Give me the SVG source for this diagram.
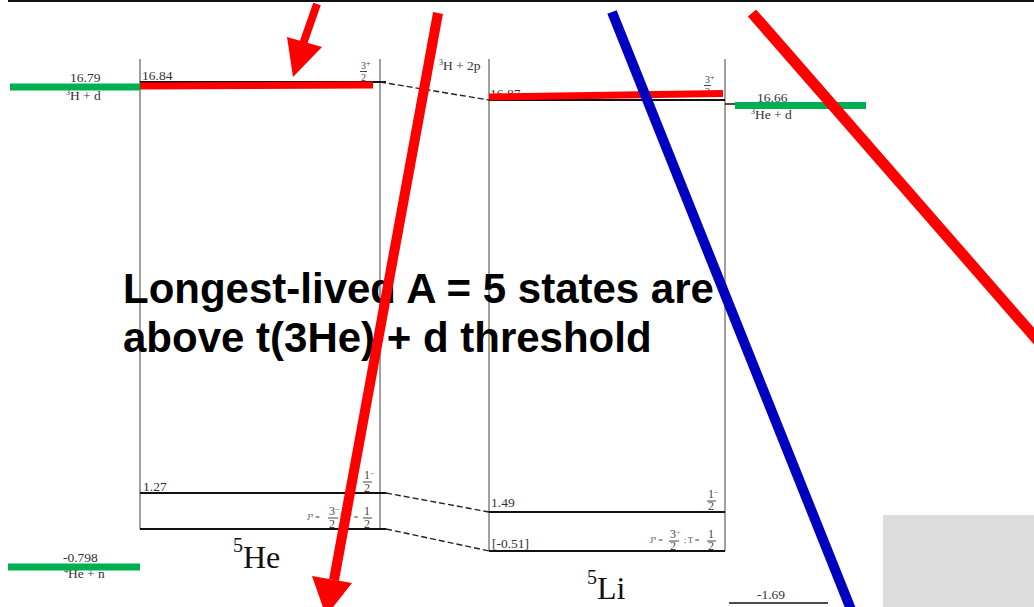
<svg xmlns="http://www.w3.org/2000/svg" width="1034" height="607" viewBox="0 0 1034 607">
<defs>
<style>
.frame{stroke:#808080;stroke-width:1.5;fill:none}
.lvl{stroke:#111;stroke-width:2;fill:none}
.dash{stroke:#222;stroke-width:1.4;stroke-dasharray:6,3;fill:none}
.lbl{font-family:"Liberation Serif",serif;font-size:13.5px;fill:#333}
.tiny{font-family:"Liberation Serif",serif;font-size:12px;fill:#444}
.sm{font-family:"Liberation Serif",serif;font-size:10px;fill:#444}
.jp{font-family:"Liberation Serif",serif;font-size:8px;fill:#444}
.bar{stroke:#444;stroke-width:1}
.nuc{font-family:"Liberation Serif",serif;fill:#111}
.thr{stroke:#00b050;stroke-width:7}
.red{stroke:#ff0000;fill:none}
.big{font-family:"Liberation Sans",Arial,sans-serif;font-weight:bold;font-size:42px;fill:#000}
</style>
</defs>
<rect width="1034" height="607" fill="#ffffff"/>
<line x1="8" y1="1" x2="1034" y2="1" stroke="#111" stroke-width="2"/>
<rect x="883" y="515" width="151" height="92" fill="#dcdcdc"/>

<g id="he5">
<line class="frame" x1="140" y1="59" x2="140" y2="529"/>
<line class="frame" x1="380" y1="59" x2="380" y2="529"/>
<line class="lvl" x1="140" y1="82" x2="386" y2="82" stroke-width="1.2"/>
<line class="lvl" x1="140" y1="493" x2="386" y2="493"/>
<line class="lvl" x1="140" y1="529" x2="386" y2="529" stroke-width="2.5"/>
<text class="lbl" x="142" y="80">16.84</text>
<text class="sm" x="361" y="69">3<tspan font-size="8" dy="-3">+</tspan></text>
<text class="sm" x="361" y="81">2</text>
<line class="bar" x1="360" y1="71.5" x2="367" y2="71.5"/>
<text class="lbl" x="143" y="491">1.27</text>
<text class="tiny" x="364" y="479">1<tspan font-size="8" dy="-3">−</tspan></text>
<text class="tiny" x="364" y="492">2</text>
<line class="bar" x1="363" y1="482" x2="372" y2="482"/>
<text class="jp" x="307" y="520">J<tspan font-size="6" dy="-3">π</tspan><tspan dy="3"> = </tspan></text>
<text class="tiny" x="329" y="515">3<tspan font-size="8" dy="-3">−</tspan></text>
<text class="tiny" x="329" y="528">2</text>
<line class="bar" x1="328" y1="518" x2="338" y2="518"/>
<text class="jp" x="343" y="520">; T =</text>
<text class="tiny" x="364" y="515">1</text>
<text class="tiny" x="364" y="528">2</text>
<line class="bar" x1="363" y1="518" x2="372" y2="518"/>
<text class="nuc" x="233" y="552" font-size="20">5</text>
<text class="nuc" x="243" y="568" font-size="32">He</text>
</g>

<g id="li5">
<line class="frame" x1="489" y1="59" x2="489" y2="551"/>
<line class="frame" x1="725" y1="59" x2="725" y2="551"/>
<line class="lvl" x1="489" y1="100" x2="725" y2="100" stroke-width="1.5"/>
<line class="lvl" x1="489" y1="512" x2="725" y2="512"/>
<line class="lvl" x1="489" y1="551" x2="725" y2="551" stroke-width="2.5"/>
<text class="lbl" x="490" y="98">16.87</text>
<text class="sm" x="705" y="83">3<tspan font-size="8" dy="-3">+</tspan></text>
<text class="sm" x="705" y="95">2</text>
<line class="bar" x1="704" y1="85.5" x2="711" y2="85.5"/>
<text class="lbl" x="491" y="507">1.49</text>
<text class="tiny" x="708" y="498">1<tspan font-size="8" dy="-3">−</tspan></text>
<text class="tiny" x="708" y="510">2</text>
<line class="bar" x1="707" y1="501" x2="716" y2="501"/>
<text class="lbl" x="492" y="548">[-0.51]</text>
<text class="jp" x="650" y="543">J<tspan font-size="6" dy="-3">π</tspan><tspan dy="3"> = </tspan></text>
<text class="tiny" x="670" y="538">3<tspan font-size="8" dy="-3">−</tspan></text>
<text class="tiny" x="670" y="550">2</text>
<line class="bar" x1="669" y1="541" x2="679" y2="541"/>
<text class="jp" x="684" y="543">; T =</text>
<text class="tiny" x="708" y="538">1</text>
<text class="tiny" x="708" y="550">2</text>
<line class="bar" x1="707" y1="541" x2="716" y2="541"/>
<text class="nuc" x="587" y="584" font-size="20">5</text>
<text class="nuc" x="597" y="599" font-size="32">Li</text>
</g>

<g id="thresholds">
<text class="lbl" x="70" y="82">16.79</text>
<text class="lbl" x="66" y="100"><tspan font-size="8" dy="-5">3</tspan><tspan dy="5">H + d</tspan></text>
<text class="lbl" x="439" y="70"><tspan font-size="8" dy="-5">3</tspan><tspan dy="5">H + 2p</tspan></text>
<line x1="725" y1="104" x2="735" y2="104" stroke="#111" stroke-width="1.5"/>
<text class="lbl" x="757" y="102">16.66</text>
<text class="lbl" x="751" y="119"><tspan font-size="8" dy="-5">3</tspan><tspan dy="5">He + d</tspan></text>
<text class="lbl" x="63" y="562">-0.798</text>
<text class="lbl" x="64" y="578"><tspan font-size="8" dy="-5">4</tspan><tspan dy="5">He + n</tspan></text>
<line x1="729" y1="603" x2="828" y2="603" stroke="#111" stroke-width="1.5"/>
<text class="lbl" x="757" y="599">-1.69</text>
</g>

<g id="connectors">
<line class="dash" x1="380" y1="82" x2="489" y2="100"/>
<line class="dash" x1="386" y1="493" x2="489" y2="512"/>
<line class="dash" x1="386" y1="529" x2="489" y2="551"/>
</g>

<g id="highlights">
<line class="thr" x1="10" y1="87" x2="140" y2="87"/>
<line class="thr" x1="735" y1="105.5" x2="866" y2="105.5"/>
<line class="thr" x1="8" y1="567" x2="140" y2="567"/>
<line class="red" x1="140" y1="86" x2="373" y2="85" stroke-width="7"/>
<line class="red" x1="489" y1="97" x2="723" y2="93.5" stroke-width="7"/>
</g>

<g id="annotation">
<text class="big" x="123" y="303">Longest-lived A = 5 states are</text>
<text class="big" x="123" y="352">above t(3He) + d threshold</text>
</g>

<g id="overlays">
<line class="red" x1="317" y1="4" x2="303" y2="44" stroke-width="8"/>
<polygon points="287,37 322,47 293,77" fill="#ff0000"/>
<line class="red" x1="438" y1="13" x2="334" y2="580" stroke-width="10"/>
<polygon points="312,576 352,583 326,616" fill="#ff0000"/>
<line x1="612" y1="12" x2="852" y2="612" stroke="#0000c0" stroke-width="10"/>
<line class="red" x1="752" y1="13" x2="1040" y2="343" stroke-width="11"/>
</g>
</svg>
